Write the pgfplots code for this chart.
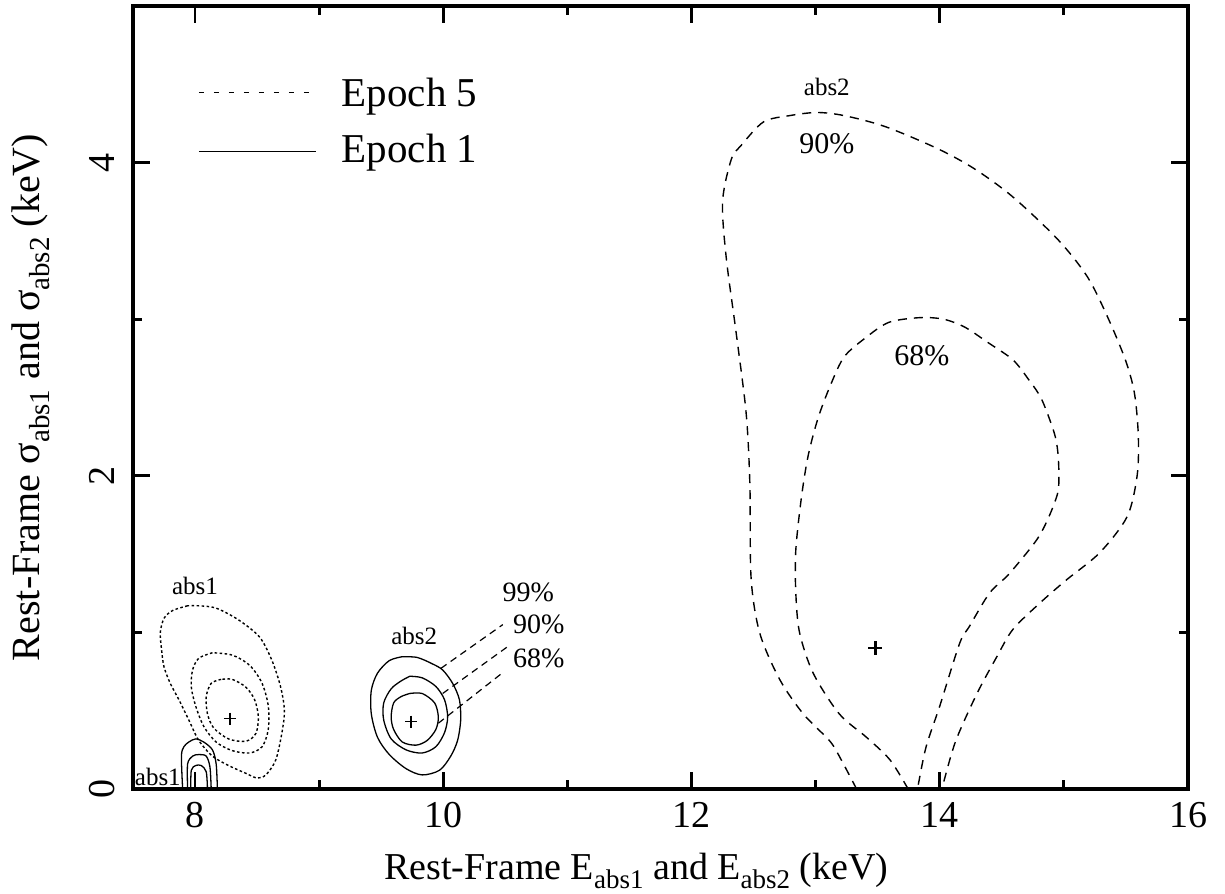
\documentclass[border=0pt]{standalone}
\usepackage{fontspec}
\setmainfont{Liberation Serif}
\usepackage{pgfplots}
\pgfplotsset{compat=1.18}
\usetikzlibrary{calc}
\newcommand{\sbx}[2]{\raisebox{-0.24em}{\fontsize{#1}{#1}\selectfont #2}}
\tikzset{
  e5s/.style={black, line width=0.7pt, dash pattern=on 1.3pt off 1.2pt, smooth, tension=0.5},
  e5l/.style={black, line width=0.7pt, dash pattern=on 4.5pt off 3.5pt, smooth, tension=0.5},
  e1/.style={black, line width=0.65pt, solid, smooth, tension=0.5},
  lbl/.style={font=\fontsize{12.5}{13}\selectfont, inner sep=0pt},
}
\begin{document}
\begin{tikzpicture}
\begin{axis}[
  scale only axis, width=527.5pt, height=391.5pt,
  xmin=7.5, xmax=16, ymin=0, ymax=5,
  xtick={8,10,12,14,16}, ytick={0,2,4},
  minor xtick={9,11,13,15}, minor ytick={1,3},
  tick align=inside,
  major tick length=8.5pt, minor tick length=4.5pt,
  every tick/.style={line width=1.4pt, black},
  axis line style={line width=1.6pt},
  /pgf/number format/assume math mode=true,
  ticklabel style={font=\fontsize{19}{20}\selectfont},
  xticklabel style={anchor=north, inner sep=0pt},
  xticklabel shift=6.5pt,
  yticklabel style={rotate=90, anchor=south, inner sep=0pt},
  yticklabel shift=9pt,
  xlabel={Rest-Frame E\sbx{13.5}{abs1} and E\sbx{13.5}{abs2} (keV)},
  xlabel style={font=\fontsize{19}{20}\selectfont, at={($(axis description cs:0.477,0)+(0,-45.3pt)$)}, anchor=base, inner sep=0pt},
  ylabel={Rest-Frame σ\sbx{14.5}{abs1} and σ\sbx{14.5}{abs2} (keV)},
  ylabel style={font=\fontsize{20}{21}\selectfont, at={($(axis description cs:0,0.5)+(-46.5pt,0)$)}, anchor=base, inner sep=0pt},
]
\coordinate (SW) at (rel axis cs:0,0);
\coordinate (NE) at (rel axis cs:1,1);

% Epoch 5, abs1
\addplot[e5s] coordinates {(7.94,1.17) (7.82,1.14) (7.75,1.09) (7.72,1.0) (7.73,0.89) (7.75,0.78) (7.80,0.675) (7.87,0.57) (7.95,0.44) (8.03,0.31) (8.14,0.21) (8.27,0.15) (8.41,0.10) (8.50,0.07) (8.57,0.09) (8.65,0.185) (8.70,0.36) (8.72,0.50) (8.69,0.65) (8.62,0.82) (8.52,0.97) (8.35,1.08) (8.17,1.155) (8.03,1.17) (7.94,1.17)};
\addplot[e5s] coordinates {(8.14,0.87) (8.03,0.835) (7.98,0.76) (7.97,0.65) (8.005,0.53) (8.07,0.40) (8.17,0.30) (8.30,0.245) (8.44,0.23) (8.54,0.27) (8.59,0.38) (8.59,0.53) (8.54,0.675) (8.44,0.79) (8.30,0.855) (8.14,0.87)};
\addplot[e5s] coordinates {(8.21,0.70) (8.13,0.675) (8.09,0.59) (8.10,0.48) (8.15,0.39) (8.27,0.32) (8.41,0.305) (8.49,0.355) (8.51,0.46) (8.48,0.57) (8.41,0.65) (8.30,0.70) (8.21,0.70)};
\addplot[black, only marks, mark=+, mark size=3pt, line width=0.7pt] coordinates {(8.28,0.45)};

% Epoch 1, abs1
\addplot[e1] coordinates {(7.90,0) (7.89,0.21) (7.91,0.27) (7.95,0.30) (8.005,0.32) (8.07,0.30) (8.14,0.25) (8.17,0.16) (8.18,0)};
\addplot[e1] coordinates {(7.94,0) (7.94,0.16) (7.98,0.21) (8.03,0.22) (8.09,0.21) (8.12,0.14) (8.13,0)};
\addplot[e1] coordinates {(7.965,0) (7.97,0.12) (8.005,0.15) (8.05,0.15) (8.09,0.11) (8.10,0)};

% Epoch 1, abs2
\addplot[e1] coordinates {(9.67,0.845) (9.79,0.84) (9.91,0.80) (9.995,0.76) (10.075,0.675) (10.13,0.57) (10.14,0.44) (10.115,0.31) (10.06,0.21) (9.97,0.12) (9.83,0.09) (9.70,0.13) (9.565,0.22) (9.47,0.33) (9.42,0.48) (9.42,0.63) (9.47,0.74) (9.565,0.82) (9.67,0.845)};
\addplot[e1] coordinates {(9.73,0.72) (9.83,0.71) (9.94,0.655) (10.01,0.57) (10.035,0.46) (10.01,0.36) (9.94,0.27) (9.83,0.23) (9.70,0.25) (9.58,0.32) (9.52,0.44) (9.52,0.55) (9.58,0.64) (9.66,0.69) (9.73,0.72)};
\addplot[e1] coordinates {(9.73,0.61) (9.83,0.61) (9.93,0.55) (9.96,0.46) (9.94,0.38) (9.87,0.31) (9.78,0.28) (9.67,0.30) (9.60,0.38) (9.58,0.46) (9.60,0.55) (9.66,0.59) (9.73,0.61)};
\addplot[black, only marks, mark=+, mark size=3pt, line width=0.7pt] coordinates {(9.74,0.43)};

% leader lines
\addplot[black, line width=0.6pt, dash pattern=on 3.5pt off 2.5pt] coordinates {(9.98,0.77) (10.48,1.05)};
\addplot[black, line width=0.6pt, dash pattern=on 3.5pt off 2.5pt] coordinates {(9.995,0.61) (10.52,0.91)};
\addplot[black, line width=0.6pt, dash pattern=on 3.5pt off 2.5pt] coordinates {(9.96,0.42) (10.49,0.75)};

% Epoch 5, abs2
\addplot[e5l] coordinates {(13.33,0) (13.19,0.21) (13.11,0.31) (12.90,0.48) (12.71,0.70) (12.55,0.995) (12.48,1.345) (12.47,1.946) (12.44,2.40) (12.36,2.91) (12.28,3.39) (12.25,3.75) (12.32,4.02) (12.40,4.11) (12.58,4.26) (12.79,4.30) (13.01,4.32) (13.23,4.30) (13.56,4.23) (13.98,4.09) (14.28,3.96) (14.59,3.78) (14.95,3.51) (15.19,3.27) (15.36,3.00) (15.50,2.73) (15.57,2.52) (15.60,2.25) (15.59,2.0) (15.51,1.74) (15.29,1.51) (15.02,1.335) (14.81,1.19) (14.59,1.02) (14.46,0.845) (14.30,0.61) (14.13,0.31) (14.03,0.04) (14.02,0)};
\addplot[e5l] coordinates {(13.745,0) (13.60,0.185) (13.41,0.33) (13.19,0.48) (12.98,0.74) (12.87,1.0) (12.84,1.255) (12.84,1.525) (12.885,1.86) (12.94,2.13) (13.02,2.37) (13.12,2.58) (13.23,2.76) (13.40,2.88) (13.59,2.98) (13.84,3.01) (14.03,3.0) (14.20,2.95) (14.39,2.85) (14.59,2.74) (14.72,2.61) (14.82,2.49) (14.92,2.28) (14.95,2.16) (14.96,2.01) (14.95,1.89) (14.88,1.74) (14.78,1.59) (14.56,1.375) (14.40,1.25) (14.24,1.04) (14.16,0.93) (14.0,0.53) (13.89,0.27) (13.825,0.02) (13.82,0)};
\addplot[black, only marks, mark=+, mark size=3.5pt, line width=1.3pt] coordinates {(13.48,0.90)};

% legend lines
\addplot[black, line width=0.7pt, dash pattern=on 2.5pt off 5pt] coordinates {(8.03,4.447) (8.976,4.447)};
\addplot[black, line width=0.7pt, solid] coordinates {(8.03,4.07) (8.976,4.07)};
\node[font=\fontsize{20.5}{21}\selectfont, anchor=base west, inner sep=0pt] at (axis cs:9.18,4.358) {Epoch 5};
\node[font=\fontsize{20.5}{21}\selectfont, anchor=base west, inner sep=0pt] at (axis cs:9.18,4.0) {Epoch 1};

% annotations
\node[lbl] at (axis cs:8.0,1.297) {abs1};
\node[lbl] at (axis cs:7.70,0.079) {abs1};
\node[lbl] at (axis cs:9.766,0.978) {abs2};
\node[lbl] at (axis cs:13.09,4.485) {abs2};
\node[font=\fontsize{14}{15}\selectfont, inner sep=0pt] at (axis cs:10.685,1.254) {99\%};
\node[font=\fontsize{14}{15}\selectfont, inner sep=0pt] at (axis cs:10.77,1.054) {90\%};
\node[font=\fontsize{14}{15}\selectfont, inner sep=0pt] at (axis cs:10.77,0.835) {68\%};
\node[font=\fontsize{15}{16}\selectfont, inner sep=0pt] at (axis cs:13.09,4.12) {90\%};
\node[font=\fontsize{15}{16}\selectfont, inner sep=0pt] at (axis cs:13.855,2.77) {68\%};
\end{axis}
\pgfresetboundingbox
\path[use as bounding box] ($(SW)+(-66.5pt,-52pt)$) rectangle ($(NE)+(18.5pt,3pt)$);
\end{tikzpicture}
\end{document}
